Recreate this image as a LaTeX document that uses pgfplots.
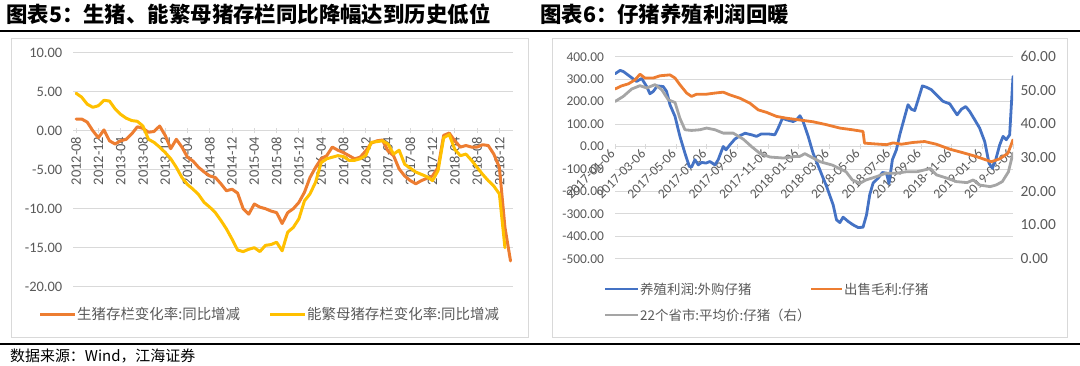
\documentclass[border=0pt]{standalone}
\usepackage{pgfplots}
\pgfplotsset{compat=1.18}
\usepackage{fontspec}
\setmainfont{Carlito}
\newfontfamily\cjk{Noto Sans CJK SC}
\definecolor{cOr}{HTML}{ED7D31}
\definecolor{cYe}{HTML}{FFC000}
\definecolor{cBl}{HTML}{4472C4}
\definecolor{cGy}{HTML}{A5A5A5}
\definecolor{cGrid}{HTML}{D9D9D9}
\definecolor{cTxt}{HTML}{595959}
\begin{document}
\begin{tikzpicture}[x=1bp,y=1bp]
\useasboundingbox (0,0) rectangle (1080,365);
% titles and rules
\node[anchor=west,inner sep=0] at (6,351) {\cjk\bfseries\fontsize{21.5}{21.5}\selectfont 图表5：生猪、能繁母猪存栏同比降幅达到历史低位};
\node[anchor=west,inner sep=0] at (540,351) {\cjk\bfseries\fontsize{21.5}{21.5}\selectfont 图表6：仔猪养殖利润回暖};
\draw[line width=2bp] (0,334) -- (1080,334);
\draw[line width=1.6bp] (0,21) -- (1080,21);
\node[anchor=west,inner sep=0] at (10,9.5) {\cjk\fontsize{15}{15}\selectfont 数据来源：Wind，江海证券};
% panel frames
\draw[cGrid, line width=0.8bp] (11,28) rectangle (528,327);
\draw[cGrid, line width=0.8bp] (552,28) rectangle (1067,327);

% ---------------- left chart ----------------
\begin{axis}[at={(73.3bp,78.3bp)}, anchor=south west,
  width=440bp, height=234bp, scale only axis,
  xmin=-0.5, xmax=78.5, ymin=-20, ymax=10, enlargelimits=false,
  axis x line=middle, axis y line=left,
  axis line style={-, draw=cGrid, line width=0.8bp},
  y axis line style={draw=none},
  hide obscured x ticks=false, hide obscured y ticks=false,
  ytick={-20,-15,...,10}, ymajorgrids, grid style={cGrid, line width=0.8bp},
  ytick style={draw=none},
  xtick={0,4,...,76},
  xticklabels={2012-08,2012-12,2013-04,2013-08,2013-12,2014-04,2014-08,2014-12,2015-04,2015-08,2015-12,2016-04,2016-08,2016-12,2017-04,2017-08,2017-12,2018-04,2018-08,2018-12},
  xtick style={draw=cGrid, line width=0.8bp}, major tick length=5bp,
  /pgf/number format/assume math mode=true,
  y tick label style={/pgf/number format/fixed, /pgf/number format/fixed zerofill, /pgf/number format/precision=2},
  yticklabel style={font=\fontsize{14.5}{14.5}\selectfont, text=cTxt, xshift=-5bp},
  xticklabel style={font=\fontsize{14.5}{14.5}\selectfont, text=cTxt, rotate=90, anchor=east},
  every axis plot/.append style={line width=3bp, line join=round, line cap=round, no markers},
]
\addplot[cOr] coordinates {
(0,1.5)(1,1.5)(2,1.1)(3,0)(4,-0.9)(5,0.1)(6,-1.3)(7,-1.7)(8,-1.3)(9,-1.1)
(10,-0.4)(11,0.5)(12,0.3)(13,-0.2)(14,-0.1)(15,0.6)(16,-0.6)(17,-2.3)(18,-1.1)(19,-2.1)
(20,-3.4)(21,-3.9)(22,-4.7)(23,-5.3)(24,-5.8)(25,-6.0)(26,-6.8)(27,-7.7)(28,-7.5)(29,-8.0)
(30,-10.0)(31,-10.7)(32,-9.4)(33,-9.8)(34,-10.0)(35,-10.3)(36,-10.5)(37,-11.9)(38,-10.5)(39,-10.0)
(40,-9.2)(41,-7.9)(42,-6.0)(43,-4.7)(44,-3.6)(45,-3.2)(46,-2.1)(47,-2.5)(48,-2.8)(49,-3.2)
(50,-3.6)(51,-3.4)(52,-2.6)(53,-1.6)(54,-1.3)(55,-1.2)(56,-2.6)(57,-3.2)(58,-4.9)(59,-5.8)
(60,-6.4)(61,-6.8)(62,-6.4)(63,-6.1)(64,-5.8)(65,-4.7)(66,-0.6)(67,-0.3)(68,-1.3)(69,-2.1)
(70,-1.9)(71,-2.1)(72,-2.1)(73,-1.8)(74,-1.9)(75,-3.0)(76,-4.7)(77,-12.4)(78,-16.7)
};
\addplot[cYe] coordinates {
(0,4.8)(1,4.3)(2,3.4)(3,3.0)(4,3.2)(5,3.9)(6,3.8)(7,2.8)(8,2.1)(9,1.6)
(10,1.3)(11,1.2)(12,0.6)(13,-1.1)(14,-1.5)(15,-2.1)(16,-2.8)(17,-3.6)(18,-4.7)(19,-6.0)
(20,-6.9)(21,-7.5)(22,-8.2)(23,-9.2)(24,-9.8)(25,-10.5)(26,-11.5)(27,-12.6)(28,-13.9)(29,-15.3)
(30,-15.5)(31,-15.2)(32,-15.0)(33,-15.5)(34,-14.7)(35,-14.6)(36,-14.3)(37,-15.4)(38,-13.0)(39,-12.4)
(40,-11.3)(41,-9.0)(42,-8.1)(43,-6.6)(44,-4.1)(45,-3.6)(46,-3.4)(47,-3.2)(48,-3.3)(49,-3.8)
(50,-3.8)(51,-3.6)(52,-3.2)(53,-1.5)(54,-1.4)(55,-1.3)(56,-1.7)(57,-3.0)(58,-2.5)(59,-4.3)
(60,-4.8)(61,-5.3)(62,-5.6)(63,-5.9)(64,-6.4)(65,-5.1)(66,-0.9)(67,-0.5)(68,-2.4)(69,-3.2)
(70,-3.0)(71,-3.8)(72,-4.7)(73,-5.6)(74,-6.4)(75,-7.1)(76,-8.1)(77,-15.0)
};
\end{axis}
% left legend
\draw[cOr, line width=3bp] (40,51) -- (75,51);
\node[anchor=west, inner sep=0, text=cTxt] at (77,51) {\cjk\fontsize{14.5}{14.5}\selectfont 生猪存栏变化率:同比增减};
\draw[cYe, line width=3bp] (270,51) -- (305,51);
\node[anchor=west, inner sep=0, text=cTxt] at (307,51) {\cjk\fontsize{14.5}{14.5}\selectfont 能繁母猪存栏变化率:同比增减};

% ---------------- right chart, primary ----------------
\begin{axis}[at={(615bp,106.3bp)}, anchor=south west,
  width=398bp, height=202bp, scale only axis,
  xmin=0, xmax=26, ymin=-500, ymax=400, enlargelimits=false,
  axis x line=middle, axis y line=left,
  axis line style={-, draw=cGrid, line width=0.8bp},
  y axis line style={draw=none},
  hide obscured x ticks=false, hide obscured y ticks=false,
  ytick={-500,-400,...,400}, ymajorgrids, grid style={cGrid, line width=0.8bp},
  ytick style={draw=none},
  xtick={0,2,...,26},
  xticklabels={2017-01-06,2017-03-06,2017-05-06,2017-07-06,2017-09-06,2017-11-06,2018-01-06,2018-03-06,2018-05-06,2018-07-06,2018-09-06,2018-11-06,2019-01-06,2019-03-06},
  xtick style={draw=cGrid, line width=0.8bp}, major tick length=5bp,
  /pgf/number format/assume math mode=true,
  y tick label style={/pgf/number format/fixed, /pgf/number format/fixed zerofill, /pgf/number format/precision=2},
  yticklabel style={font=\fontsize{13.5}{13.5}\selectfont, text=cTxt, xshift=-5bp},
  xticklabel style={font=\fontsize{13.5}{13.5}\selectfont, text=cTxt, rotate=45, anchor=east},
  every axis plot/.append style={line width=2.8bp, line join=round, line cap=round, no markers},
]
\addplot[cBl] coordinates {
(0,324)(0.33,339)(0.55,334)(0.98,312)(1.41,290)(1.74,303)(2.07,267)(2.28,235)(2.5,245)(2.76,270)
(3.15,267)(3.37,245)(3.59,186)(3.92,134)(4.24,45)(4.57,-30)(4.85,-89)(5.0,-92)(5.22,-59)(5.44,-82)
(5.66,-71)(5.94,-74)(6.2,-67)(6.53,-82)(6.74,-59)(7.07,0)(7.25,-15)(7.5,7)(7.83,33)(8.16,48)
(8.49,59)(8.92,52)(9.25,45)(9.57,56)(10.0,56)(10.44,52)(10.66,82)(10.94,126)(11.2,119)(11.64,111)
(11.86,119)(12.08,137)(12.29,111)(12.62,45)(12.94,-30)(13.38,-104)(13.82,-178)(14.25,-260)(14.47,-327)(14.69,-339)
(14.9,-315)(15.23,-334)(15.55,-349)(15.88,-361)(16.2,-360)(16.43,-305)(16.64,-215)(16.86,-163)(17.19,-141)(17.47,-116)
(17.73,-119)(17.9,-165)(18.12,-59)(18.38,-15)(18.6,52)(18.93,134)(19.14,186)(19.36,166)(19.58,160)(19.8,208)
(20.08,270)(20.34,264)(20.67,253)(21.1,223)(21.43,201)(21.87,190)(22.13,163)(22.35,141)(22.63,166)(22.91,178)
(23.17,156)(23.5,119)(23.82,82)(24.15,22)(24.43,-74)(24.65,-97)(24.87,-59)(25.13,7)(25.35,45)(25.56,30)
(25.78,52)(26.0,312)
};
\addplot[cOr] coordinates {
(0,256)(0.43,270)(0.87,279)(1.31,297)(1.63,322)(1.96,305)(2.5,305)(2.94,315)(3.59,319)(3.92,305)
(4.24,275)(4.68,238)(5.0,223)(5.33,233)(5.98,233)(6.53,238)(7.07,242)(7.5,230)(8.16,215)(8.81,193)
(9.36,163)(9.9,152)(10.55,134)(11.2,126)(11.86,120)(12.62,113)(12.94,110)(13.82,97)(14.69,82)(15.55,74)
(16.2,67)(16.3,15)(16.86,12)(17.73,8)(18.17,16)(18.71,10)(19.47,18)(20.23,22)(20.99,10)(21.87,-12)
(22.74,-28)(23.61,-45)(24.58,-68)(25.13,-55)(25.67,-30)(26.0,30)
};
\end{axis}
% ---------------- right chart, secondary ----------------
\begin{axis}[at={(615bp,106.3bp)}, anchor=south west,
  width=398bp, height=202bp, scale only axis,
  xmin=0, xmax=26, ymin=0, ymax=60, enlargelimits=false,
  axis x line=none, axis y line=right,
  axis line style={-, draw=none},
  xtick=\empty,
  ytick={0,10,...,60}, ytick style={draw=none},
  /pgf/number format/assume math mode=true,
  y tick label style={/pgf/number format/fixed, /pgf/number format/fixed zerofill, /pgf/number format/precision=2},
  yticklabel style={font=\fontsize{15.5}{15.5}\selectfont, text=cTxt, xshift=2bp},
  every axis plot/.append style={line width=2.8bp, line join=round, line cap=round, no markers},
]
\addplot[cGy] coordinates {
(0,46.7)(0.54,48.2)(1.09,50.4)(1.63,51.4)(2.07,50.7)(2.61,51.7)(3.05,50.2)(3.48,47.2)(3.92,46.4)(4.24,41.7)
(4.57,38.3)(5.0,38.1)(5.55,38.3)(5.98,38.8)(6.53,38.3)(7.07,37.3)(7.72,37.3)(8.38,35.5)(8.92,33.3)(9.46,31.3)
(10.12,30.2)(11.0,29.9)(11.86,30.4)(12.08,30.4)(12.4,31.2)(12.94,29.9)(13.4,28.8)(14.2,27.8)(15.1,25.8)(15.5,23.4)
(16.0,22.4)(16.4,23.4)(17.1,24.4)(17.7,25.4)(18.4,25.4)(19.0,25.8)(19.7,25.8)(20.6,26.8)(21.0,24.9)(21.7,23.9)
(22.3,22.9)(23.0,22.6)(23.4,23.4)(23.8,21.9)(24.5,21.4)(24.9,21.9)(25.3,22.9)(25.7,25.8)(26.0,31.4)
};
\end{axis}
% right legend
\draw[cBl, line width=2.8bp] (605,76) -- (638,76);
\node[anchor=west, inner sep=0, text=cTxt] at (640,76) {\cjk\fontsize{13.5}{13.5}\selectfont 养殖利润:外购仔猪};
\draw[cOr, line width=2.8bp] (811,76) -- (842,76);
\node[anchor=west, inner sep=0, text=cTxt] at (844,76) {\cjk\fontsize{13.5}{13.5}\selectfont 出售毛利:仔猪};
\draw[cGy, line width=2.8bp] (605,50) -- (638,50);
\node[anchor=west, inner sep=0, text=cTxt] at (640,50) {\cjk\fontsize{13.5}{13.5}\selectfont 22个省市:平均价:仔猪（右）};
\end{tikzpicture}
\end{document}
